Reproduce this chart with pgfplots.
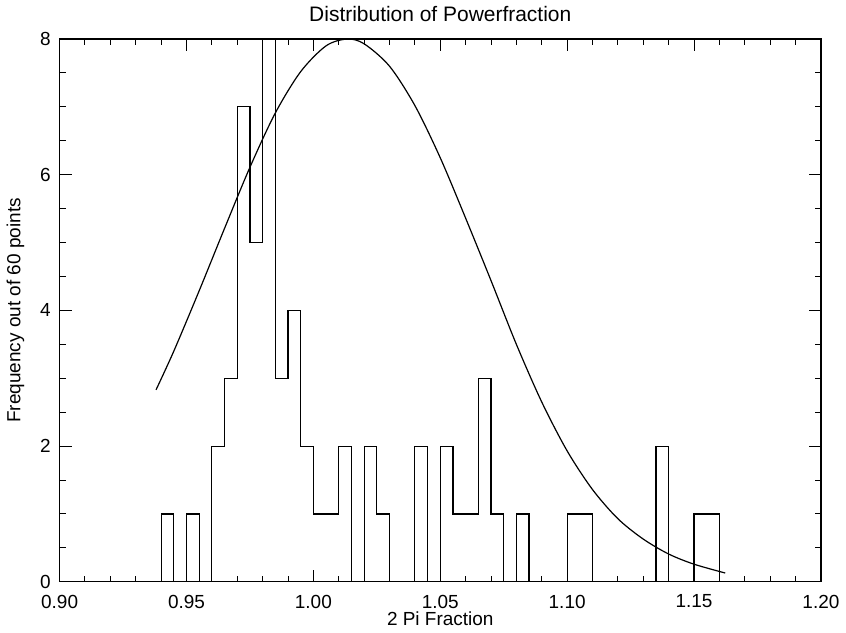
\documentclass[border=0pt]{standalone}
\usepackage{pgfplots}
\pgfplotsset{compat=1.18}
\usepackage{fontspec}
\setmainfont{Liberation Sans}
\begin{document}
\begin{tikzpicture}
\begin{axis}[
  scale only axis,
  width=381.5pt, height=272pt,
  xmin=0.90, xmax=1.20, ymin=0, ymax=8,
  xtick={0.90,0.95,...,1.201},
  minor x tick num=4,
  ytick={0,2,4,6,8},
  minor y tick num=3,
  tick align=inside,
  major tick length=6pt, minor tick length=3pt,
  tick style={black, line width=0.5pt},
  axis line style={line width=0.6pt},
  xticklabel style={yshift=-3pt, /pgf/number format/fixed, /pgf/number format/fixed zerofill, /pgf/number format/precision=2},
  yticklabel style={xshift=-1pt},
  /pgf/number format/assume math mode=true,
  ticklabel style={font=\fontsize{9.5}{11}\selectfont},
  label style={font=\fontsize{9.5}{11}\selectfont},
  title style={font=\fontsize{10.5}{12}\selectfont, yshift=-1pt},
  title={Distribution of Powerfraction},
  xlabel={2 Pi Fraction},
  ylabel={Frequency out of 60 points},
  xlabel style={yshift=5pt},
  ylabel style={yshift=1pt},
  clip=true,
]
\addplot[const plot, black, line width=0.6pt] coordinates {
(0.940,0)(0.940,1)(0.945,0)(0.950,1)(0.955,0)(0.960,2)(0.965,3)(0.970,7)(0.975,5)(0.980,8)(0.985,3)(0.990,4)(0.995,2)(1.000,1)(1.010,2)(1.015,0)(1.020,2)(1.025,1)(1.030,0)(1.040,2)(1.045,0)(1.050,2)(1.055,1)(1.065,3)(1.070,1)(1.075,0)(1.080,1)(1.085,0)(1.100,1)(1.110,0)(1.135,2)(1.140,0)(1.150,1)(1.160,0)(1.165,0)
};
\addplot[smooth, black, line width=0.6pt] coordinates {
(0.938,2.83)(0.945,3.40)(0.955,4.29)(0.965,5.21)(0.975,6.11)(0.985,6.91)(0.995,7.52)(1.005,7.90)(1.0133,8.00)(1.020,7.93)(1.030,7.60)(1.040,7.02)(1.050,6.25)(1.060,5.36)(1.070,4.44)(1.080,3.50)(1.090,2.65)(1.100,1.93)(1.110,1.36)(1.120,0.93)(1.130,0.63)(1.140,0.41)(1.150,0.26)(1.1623,0.13)
};
\end{axis}
\end{tikzpicture}
\end{document}
